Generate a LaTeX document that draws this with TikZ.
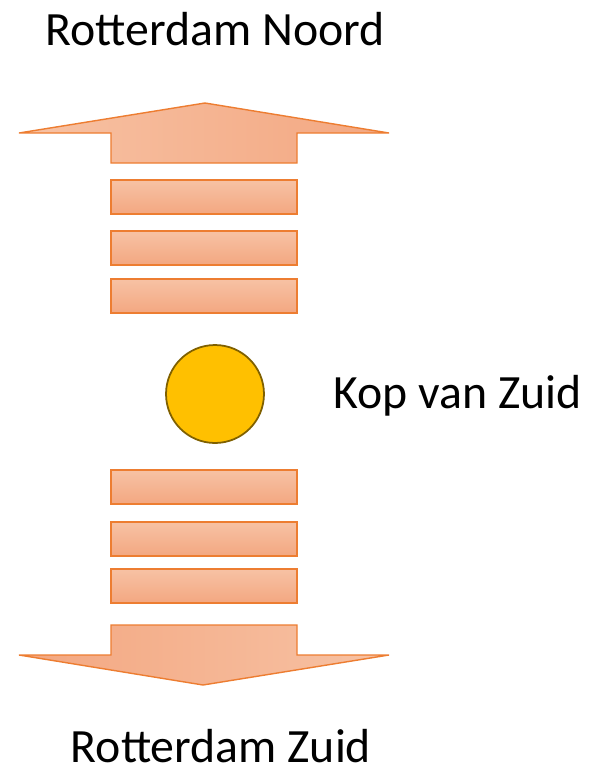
\documentclass[tikz,border=0pt]{standalone}
\usepackage{fontspec}
\setmainfont{Carlito}
\usetikzlibrary{calc}
\definecolor{barline}{HTML}{ED7D31}
\definecolor{barlight}{HTML}{F7C2A4}
\definecolor{bardark}{HTML}{F3A781}
\definecolor{kopfill}{HTML}{FFC000}
\definecolor{kopline}{HTML}{7F6000}
\tikzset{
  bar/.style={
    rectangle,
    draw=barline,
    line width=0.8pt,
    top color=barlight,
    bottom color=bardark,
    minimum width=3.72cm,
    minimum height=0.68cm,
    inner sep=0pt,
  }
}
\tikzset{
  place/.style={
    font=\fontsize{27.2}{31}\selectfont,
    inner sep=0pt,
    anchor=base,
  }
}

\begin{document}
\begin{tikzpicture}[
    x=0.02cm,
    y=-0.02cm,
    ]

    \useasboundingbox (0,0) rectangle (589,769);

    \node[place] (noord) at (215,45) {Rotterdam Noord};
    \node[place] (zuid) at (221,762) {Rotterdam Zuid};

    % arrow to the north
    \draw[draw=barline, line width=0.8pt, left color=barlight, right color=bardark]
      (19,133) -- (205,103) -- (389,133) -- (297,133) -- (297,163)
      -- (111,163) -- (111,133) -- cycle;

    \foreach \name/\y in {n1/197,n2/248,n3/296}{
      \node[bar] (\name) at (204,\y) {};
    }

    \node[circle, draw=kopline, line width=1pt, fill=kopfill,
      minimum size=1.96cm, inner sep=0pt] (kop) at (215,394) {};
    \node[place, anchor=base west] (kopname) at (333,408) {Kop van Zuid};

    \foreach \name/\y in {z1/487,z2/539,z3/586}{
      \node[bar] (\name) at (204,\y) {};
    }

    % arrow to the south
    \draw[draw=barline, line width=0.8pt, left color=bardark, right color=barlight]
      (111,625) -- (297,625) -- (297,655) -- (389,655) -- (203,685)
      -- (19,655) -- (111,655) -- cycle;

\end{tikzpicture}
\end{document}
